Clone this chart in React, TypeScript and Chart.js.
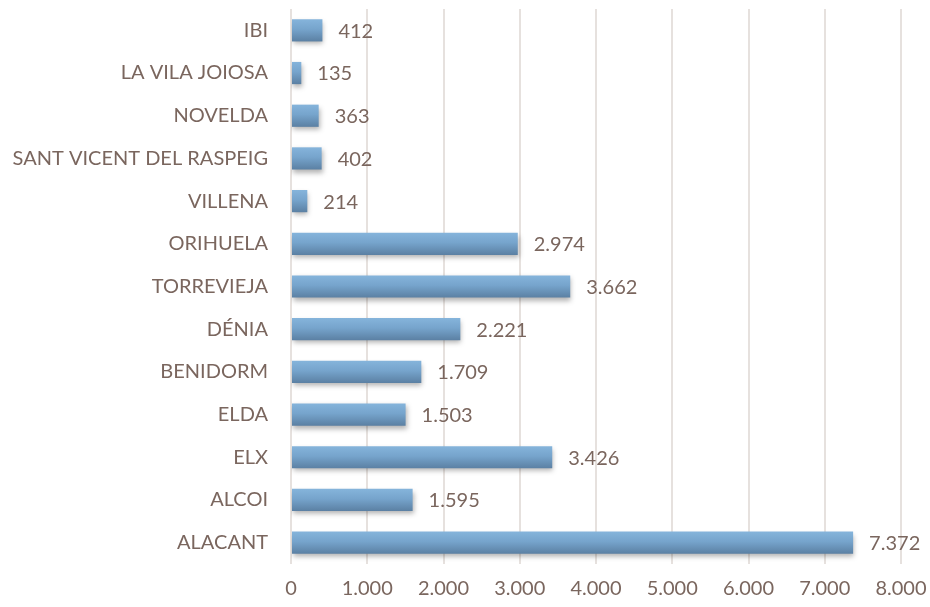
import React, { useEffect, useRef } from "react";
import { Chart, registerables } from "chart.js";

Chart.register(...registerables);

const categories = [
  "IBI",
  "LA VILA JOIOSA",
  "NOVELDA",
  "SANT VICENT DEL RASPEIG",
  "VILLENA",
  "ORIHUELA",
  "TORREVIEJA",
  "DÉNIA",
  "BENIDORM",
  "ELDA",
  "ELX",
  "ALCOI",
  "ALACANT",
];
const values = [412, 135, 363, 402, 214, 2974, 3662, 2221, 1709, 1503, 3426, 1595, 7372];
const xMin = 0;
const xMax = 8000;
const xStep = 1000;

const TEXT = "#7a665e";
const FONT = "Lato";
const FSIZE = 20;

function fmt(v: number): string {
  return Math.round(v).toString().replace(/\B(?=(\d{3})+(?!\d))/g, ".");
}

const barStyle = {
  id: "barStyle",
  beforeDatasetsDraw(chart: any) {
    const ctx = chart.ctx;
    chart.getDatasetMeta(0).data.forEach((el: any) => {
      const top = el.y - el.height / 2;
      const bot = el.y + el.height / 2;
      const g = ctx.createLinearGradient(0, top, 0, bot);
      g.addColorStop(0, "#85b4db");
      g.addColorStop(0.45, "#76a4cc");
      g.addColorStop(1, "#5b80a3");
      el.options = { ...el.options, backgroundColor: g };
    });
    ctx.save();
    ctx.shadowColor = "rgba(0,0,0,0.3)";
    ctx.shadowBlur = 5;
    ctx.shadowOffsetX = 1;
    ctx.shadowOffsetY = 3;
  },
  afterDatasetsDraw(chart: any) {
    const ctx = chart.ctx;
    ctx.restore();
    ctx.save();
    ctx.fillStyle = TEXT;
    ctx.font = `${FSIZE}px ${FONT}`;
    ctx.textAlign = "left";
    ctx.textBaseline = "middle";
    const ds = chart.data.datasets[0];
    chart.getDatasetMeta(0).data.forEach((el: any, i: number) => {
      ctx.fillText(fmt(ds.data[i] as number), el.x + 16, el.y + 1);
    });
    ctx.restore();
  },
};

export default function App() {
  const ref = useRef<HTMLCanvasElement>(null);
  useEffect(() => {
    document.body.style.margin = "0";
    const chart = new Chart(ref.current!, {
      type: "bar",
      data: {
        labels: categories,
        datasets: [
          {
            data: values,
            backgroundColor: "#76a3cc",
            borderWidth: 0,
            barPercentage: 0.52,
            categoryPercentage: 1,
          },
        ],
      },
      plugins: [barStyle],
      options: {
        indexAxis: "y",
        animation: false,
        responsive: false,
        maintainAspectRatio: false,
        layout: { padding: { top: 9, right: 29, left: 0, bottom: 0 } },
        plugins: { legend: { display: false }, tooltip: { enabled: false } },
        scales: {
          x: {
            min: xMin,
            max: xMax,
            ticks: {
              stepSize: xStep,
              color: TEXT,
              font: { family: FONT, size: FSIZE },
              padding: 13,
              callback: (v: any) => fmt(Number(v)),
            },
            grid: { color: "#e6e1de", lineWidth: 2, drawTicks: false },
            border: { display: false },
            afterFit: (s: any) => {
              s.height = 43;
              s.paddingLeft = 0;
              s.paddingRight = 0;
            },
          },
          y: {
            ticks: {
              color: TEXT,
              font: { family: FONT, size: FSIZE },
              padding: 23,
            },
            grid: { display: false, drawTicks: false },
            border: { display: false },
            afterFit: (s: any) => {
              s.width = 291;
              s.paddingTop = 0;
              s.paddingBottom = 0;
            },
          },
        },
      },
    });
    return () => chart.destroy();
  }, []);
  return <canvas ref={ref} width={930} height={607} style={{ display: "block" }} />;
}
